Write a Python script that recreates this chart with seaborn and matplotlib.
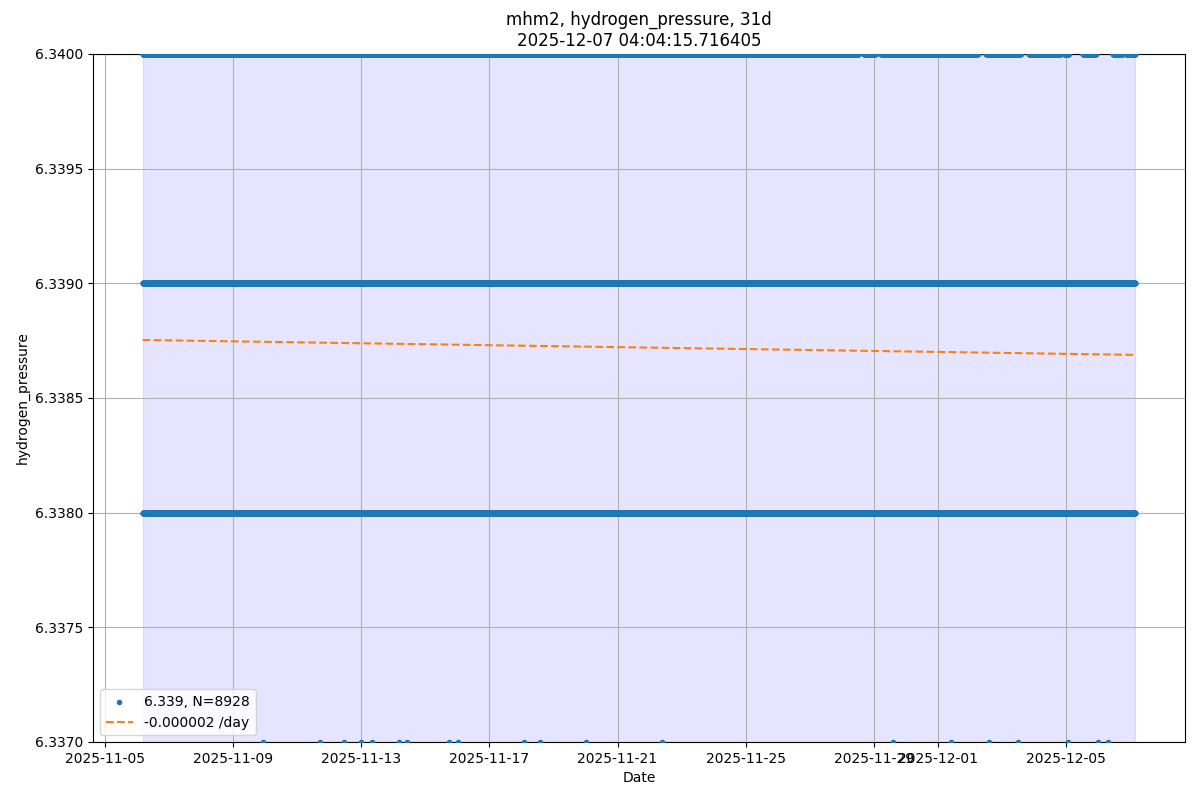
import numpy as np
import pandas as pd
import seaborn as sns
import matplotlib.pyplot as plt

# readings, 5 minute cadence over the 31 day window
t_start = pd.Timestamp("2025-11-06 04:04:15.716405")
t_end = t_start + pd.Timedelta(days=31)

levels = [6.337, 6.338, 6.339, 6.340]

# spans (days after t_start) where each level shows up in the plot
spans_338 = [(0.0, 31.0)]
spans_339 = [(0.0, 31.0)]
spans_340 = [(0.0, 22.36), (22.52, 22.89), (23.05, 26.08), (26.33, 27.42),
             (27.67, 28.67), (28.77, 28.92), (29.36, 29.77), (30.30, 30.61),
             (30.71, 31.0)]
# isolated low readings (days after t_start)
days_337 = [3.77, 5.55, 6.30, 6.83, 7.17, 7.99, 8.24, 9.58, 9.86, 11.92,
            12.42, 13.83, 16.23, 23.43, 25.23, 26.43, 27.33, 28.89, 29.83, 30.13]

n_points = 8928
mean_label = "6.339"
trend_start = 6.338753   # fitted value at t_start
trend_end = 6.338688     # fitted value at t_end
slope_label = "-0.000002"

grid = pd.date_range(t_start, t_end, freq="5min", inclusive="left")


def span_times(spans):
    out = []
    for a, b in spans:
        lo = t_start + pd.Timedelta(days=a)
        hi = t_start + pd.Timedelta(days=b)
        out.append(grid[(grid >= lo) & (grid <= hi)])
    return out[0].append(out[1:]) if len(out) > 1 else out[0]


frames = []
for lev, spans in [(6.338, spans_338), (6.339, spans_339), (6.340, spans_340)]:
    ts = span_times(spans)
    frames.append(pd.DataFrame({"time": ts, "value": lev}))
frames.append(pd.DataFrame({
    "time": [t_start + pd.Timedelta(days=d) for d in days_337],
    "value": 6.337}))
df = pd.concat(frames, ignore_index=True)

trend = pd.DataFrame({"time": [t_start, t_end], "value": [trend_start, trend_end]})

fig, ax = plt.subplots(figsize=(12, 8), dpi=100)

ax.axvspan(t_start, t_end, color="blue", alpha=0.1)
sns.scatterplot(data=df, x="time", y="value", ax=ax, marker=".", s=36,
                color="C0", edgecolor="C0", linewidth=1, zorder=3,
                label=f"{mean_label}, N={n_points}")
sns.lineplot(data=trend, x="time", y="value", ax=ax, color="C1",
             linestyle="--", label=f"{slope_label} /day", zorder=3)

ax.set_ylim(levels[0], levels[-1])
ax.grid(True)
ax.set_xlabel("Date")
ax.set_ylabel("hydrogen_pressure")
ax.set_title("mhm2, hydrogen_pressure, 31d\n2025-12-07 04:04:15.716405")
ax.legend(loc="lower left")

fig.subplots_adjust(left=0.0775, right=0.9875, top=0.9325, bottom=0.0725)
fig.savefig("out.png")
